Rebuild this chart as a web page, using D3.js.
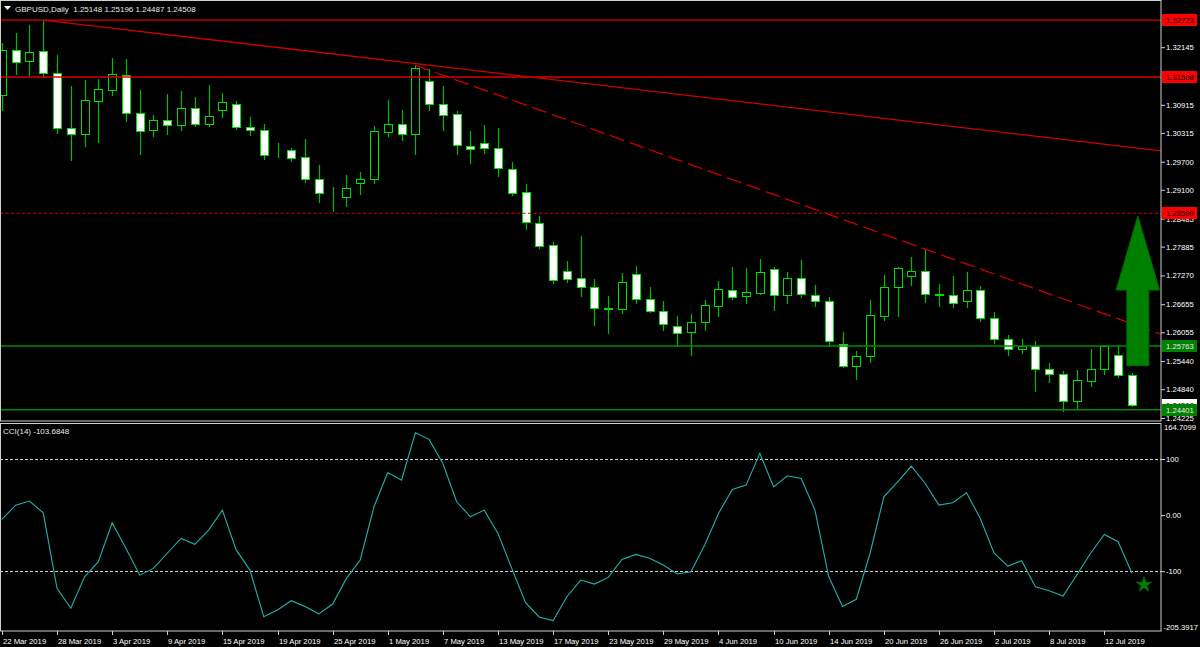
<!DOCTYPE html>
<html><head><meta charset="utf-8">
<script src="https://cdn.jsdelivr.net/npm/d3@7"></script>
<style>
html,body{margin:0;padding:0;background:#000;}
svg{display:block;}
text{font-family:"Liberation Sans",Arial,sans-serif;}
</style></head><body>
<svg id="chart" width="1200" height="647"></svg>
<script>
// ---------- DATA ----------
const dates = [
"2019-03-22","2019-03-25","2019-03-26","2019-03-27","2019-03-28","2019-03-29",
"2019-04-01","2019-04-02","2019-04-03","2019-04-04","2019-04-05","2019-04-08","2019-04-09","2019-04-10","2019-04-11","2019-04-12",
"2019-04-15","2019-04-16","2019-04-17","2019-04-18","2019-04-19","2019-04-22","2019-04-23","2019-04-24","2019-04-25","2019-04-26",
"2019-04-29","2019-04-30",
"2019-05-01","2019-05-02","2019-05-03","2019-05-06","2019-05-07","2019-05-08","2019-05-09","2019-05-10","2019-05-13","2019-05-14",
"2019-05-15","2019-05-16","2019-05-17","2019-05-20","2019-05-21","2019-05-22","2019-05-23","2019-05-24","2019-05-27","2019-05-28",
"2019-05-29","2019-05-30","2019-05-31",
"2019-06-03","2019-06-04","2019-06-05","2019-06-06","2019-06-07","2019-06-10","2019-06-11","2019-06-12","2019-06-13","2019-06-14",
"2019-06-17","2019-06-18","2019-06-19","2019-06-20","2019-06-21","2019-06-24","2019-06-25","2019-06-26","2019-06-27","2019-06-28",
"2019-07-01","2019-07-02","2019-07-03","2019-07-04","2019-07-05","2019-07-08","2019-07-09","2019-07-10","2019-07-11","2019-07-12",
"2019-07-15","2019-07-16"
];
const openP = [
1.31119,1.32095,1.31852,1.32059,1.31595,1.30421,1.30281,1.31006,1.31241,1.31561,
1.30750,1.30366,1.30586,1.30486,1.30842,1.30500,1.30799,1.30934,1.30436,1.30366,
1.29864,1.29939,1.29790,1.29327,1.28974,1.28949,1.29235,1.29320,1.30336,1.30494,
1.30281,1.31418,1.30934,1.30714,1.30037,1.30089,1.29982,1.29534,1.29043,1.28394,
1.27911,1.27356,1.27213,1.27028,1.26579,1.26545,1.27305,1.26772,1.26515,1.26195,
1.26067,1.26268,1.26616,1.26951,1.26823,1.26893,1.27412,1.26844,1.27207,1.26857,
1.26716,1.25811,1.25335,1.25548,1.26409,1.27028,1.27262,1.27363,1.26878,1.26844,
1.26716,1.26957,1.26366,1.25905,1.25704,1.25762,1.25277,1.25158,1.24594,1.25021,
1.25265,1.25576,1.25148
];
const highP = [
1.32229,1.32449,1.32614,1.32723,1.31973,1.31312,1.31455,1.31476,1.31916,1.31894,
1.31226,1.30693,1.31141,1.31205,1.31083,1.31327,1.31177,1.30991,1.30656,1.30515,
1.30089,1.29982,1.30180,1.29625,1.29149,1.29412,1.29470,1.30458,1.31013,1.30799,
1.31760,1.31689,1.31312,1.30784,1.30351,1.30479,1.30409,1.29683,1.29226,1.28530,
1.27975,1.27576,1.28116,1.27186,1.26829,1.27326,1.27476,1.27021,1.26722,1.26402,
1.26445,1.26744,1.27149,1.27442,1.27420,1.27619,1.27455,1.27335,1.27591,1.27064,
1.26801,1.26054,1.25655,1.26744,1.27277,1.27455,1.27662,1.27832,1.27085,1.27256,
1.27348,1.27049,1.26488,1.26003,1.25911,1.25869,1.25393,1.25228,1.25250,1.25698,
1.25783,1.25783,1.25196
];
const lowP = [
1.30799,1.31568,1.31546,1.31510,1.30315,1.29732,1.30037,1.30110,1.31119,1.30571,
1.29854,1.30244,1.30281,1.30387,1.30458,1.30468,1.30656,1.30400,1.30259,1.29760,
1.29803,1.29717,1.29269,1.28842,1.28643,1.28750,1.29006,1.29235,1.30251,1.30159,
1.29854,1.30799,1.30372,1.29854,1.29662,1.29888,1.29397,1.28985,1.28253,1.27860,
1.27113,1.27134,1.26836,1.26210,1.26046,1.26473,1.26673,1.26494,1.26103,1.25762,
1.25570,1.26103,1.26409,1.26765,1.26673,1.26872,1.26530,1.26686,1.26801,1.26622,
1.25768,1.25320,1.25051,1.25427,1.26323,1.26409,1.27064,1.26707,1.26616,1.26594,
1.26601,1.26302,1.25820,1.25563,1.25619,1.24808,1.25000,1.24381,1.24417,1.24908,
1.25164,1.25094,1.24487
];
const closeP = [
1.32080,1.31830,1.32037,1.31595,1.30415,1.30287,1.31013,1.31248,1.31583,1.30729,
1.30345,1.30586,1.30486,1.30842,1.30507,1.30678,1.30970,1.30430,1.30366,1.29839,
1.29856,1.29768,1.29327,1.29021,1.28968,1.29128,1.29333,1.30345,1.30494,1.30287,
1.31711,1.30934,1.30707,1.30046,1.29960,1.29988,1.29555,1.29021,1.28402,1.27903,
1.27171,1.27192,1.27028,1.26584,1.26545,1.27122,1.26765,1.26509,1.26238,1.26033,
1.26274,1.26631,1.26972,1.26808,1.26908,1.27335,1.26844,1.27207,1.26865,1.26722,
1.25869,1.25335,1.25555,1.26417,1.27015,1.27420,1.27363,1.26865,1.26844,1.26673,
1.26957,1.26366,1.25905,1.25704,1.25762,1.25265,1.25158,1.24594,1.25030,1.25265,
1.25762,1.25149,1.24508
];
const cci = [
-7.7,17.8,25,4,-130.6,-166,-110,-83,-13.7,-59,
-107,-95,-68,-41.5,-52,-26.7,8.9,-62,-98,-181,
-169,-152.6,-163,-176,-158.5,-112.8,-80,14.8,76,62.3,
146.6,135,92,23.7,-3,8.9,-32.6,-95,-156,-182,
-188,-145.5,-115.8,-123,-111,-79,-70,-77,-89,-105,
-101,-53.4,3,45.7,53.4,110,50.4,70,65.3,8.9,
-110,-163,-150,-68,32.6,59.3,87.3,56.4,17.8,22,
39.7,-6,-68,-90.8,-81.3,-127.6,-134.8,-144.3,-106.9,-68,
-34.4,-47.5,-103.6848
];
const priceTicks = [1.32145,1.30915,1.30315,1.29700,1.29100,1.28485,1.27885,1.27270,1.26655,1.26055,1.25440,1.24840,1.24225];
const cciTicks = [164.7099,100,0,-100,-205.3917];
const cciTickLabels = ["164.7099","100","0.00","-100","-205.3917"];
const cciLevels = [100,-100];
const dateTickLabels = ["22 Mar 2019","28 Mar 2019","3 Apr 2019","9 Apr 2019","15 Apr 2019","19 Apr 2019","25 Apr 2019",
"1 May 2019","7 May 2019","13 May 2019","17 May 2019","23 May 2019","29 May 2019","4 Jun 2019","10 Jun 2019",
"14 Jun 2019","20 Jun 2019","26 Jun 2019","2 Jul 2019","8 Jul 2019","12 Jul 2019"];
const dateTickEvery = 4;
const redLevels = [1.32723,1.31508];
const redDashedLevels = [1.28599];
const greenLevels = [1.25763,1.24401];
const solidTrend = [[3,1.32723],[30,1.31794]];
const dashedTrend = [[30,1.31760],[67,1.27832]];
const arrowIndex = 82.43;
const arrowLevels = [1.28543,1.26957,1.25341]; // tip, head base, tail
const starPoint = [82.88,-124];
const symbolName = "GBPUSD,Daily";
const cciTitle = "CCI(14) -103.6848";

// ---------- LAYOUT ----------
const W=1200, H=647, PR=1161;
const top1=0.5, bot1=421, top2=423, bot2=631;
const FS=7.7;
const svg=d3.select("#chart");
svg.append("rect").attr("width",W).attr("height",H).attr("fill","#000");

const x=d3.scalePoint().domain(dates).range([1.9,1131.9]);
const xi=d3.scaleLinear().domain([0,dates.length-1]).range([1.9,1131.9]);
const y=d3.scaleLinear().domain([1.24225,1.32145]).range([418,47.2]);
const yc=d3.scaleLinear().domain([-100,100]).range([571.2,459]);

const defs=svg.append("defs");
defs.append("clipPath").attr("id","c1").append("rect").attr("x",1).attr("y",1).attr("width",PR-1).attr("height",bot1-1);
defs.append("clipPath").attr("id","c2").append("rect").attr("x",1).attr("y",top2+1).attr("width",PR-1).attr("height",bot2-top2-1);

// ---------- CANDLES ----------
const g1=svg.append("g").attr("clip-path","url(#c1)");
const idx=d3.range(dates.length);
const cx=i=>Math.round(x(dates[i]));
g1.selectAll("line.wick").data(idx).join("line").attr("class","wick")
  .attr("x1",i=>cx(i)+0.5).attr("x2",i=>cx(i)+0.5)
  .attr("y1",i=>Math.round(y(highP[i]))).attr("y2",i=>Math.round(y(lowP[i]))+1)
  .attr("stroke","#00bb00").attr("stroke-width",1.2);
g1.selectAll("rect.body").data(idx).join("rect").attr("class","body")
  .attr("x",i=>cx(i)-3.5).attr("width",8)
  .attr("y",i=>Math.round(y(Math.max(openP[i],closeP[i])))+0.5)
  .attr("height",i=>Math.round(y(Math.min(openP[i],closeP[i])))-Math.round(y(Math.max(openP[i],closeP[i]))))
  .attr("fill",i=>closeP[i]>openP[i]?"#000":"#fff")
  .attr("stroke","#00e000").attr("stroke-width",1);

// ---------- OBJECTS ----------
const hline=(p,col,dash,w)=>g1.append("line").attr("x1",0).attr("x2",PR).attr("y1",y(p)).attr("y2",y(p))
  .attr("stroke",col).attr("stroke-width",w).attr("stroke-dasharray",dash);
redLevels.forEach(p=>hline(p,"#dd0000",null,1.3));
redDashedLevels.forEach(p=>hline(p,"#dd0000","3,2.5",1.1));
greenLevels.forEach(p=>hline(p,"#008c00",null,1.3));

function trend(pts,dash){
  const [a,b]=pts; const slope=(b[1]-a[1])/(b[0]-a[0]);
  const iEnd=xi.invert(PR);
  g1.append("line").attr("x1",xi(a[0])).attr("y1",y(a[1]))
    .attr("x2",PR).attr("y2",y(a[1]+slope*(iEnd-a[0])))
    .attr("stroke","#cc0000").attr("stroke-width",1.3).attr("stroke-dasharray",dash);
}
trend(solidTrend,null);
trend(dashedTrend,"15,5.7");

// arrow
{
  const ax=xi(arrowIndex), yt=y(arrowLevels[0]), yh=y(arrowLevels[1]), yb=y(arrowLevels[2]);
  const hw=21.7, sw=11;
  const pts=[[ax,yt],[ax+hw,yh],[ax+sw,yh],[ax+sw,yb],[ax-sw,yb],[ax-sw,yh],[ax-hw,yh]];
  g1.append("path").attr("d",d3.line()(pts)+"Z").attr("fill","#008000").attr("stroke","#006a00").attr("stroke-width",1);
}

// ---------- PANE BORDERS ----------
svg.append("rect").attr("x",0.5).attr("y",top1).attr("width",PR-0.5).attr("height",bot1-top1)
  .attr("fill","none").attr("stroke","#cfcfcf").attr("stroke-width",1);
svg.append("rect").attr("x",0.5).attr("y",top2+0.5).attr("width",PR-0.5).attr("height",bot2-top2-0.5)
  .attr("fill","none").attr("stroke","#cfcfcf").attr("stroke-width",1);

// ---------- PRICE AXIS ----------
const ax1=svg.append("g").attr("transform",`translate(${PR},0)`)
  .call(d3.axisRight(y).tickValues(priceTicks).tickSize(4).tickPadding(1).tickFormat(d3.format(".5f")));
ax1.select(".domain").remove();
ax1.selectAll("line").attr("stroke","#cfcfcf");
ax1.selectAll("text").attr("fill","#fff").attr("font-size",FS).attr("font-family","Liberation Sans,Arial");

// level labels
function levelLabel(p,bg,fg,txt){
  const g=svg.append("g").attr("transform",`translate(${PR+1},${Math.round(y(p))})`);
  g.append("rect").attr("x",0).attr("y",-6).attr("width",W-PR-4).attr("height",12).attr("fill",bg);
  g.append("text").attr("x",4).attr("y",0).attr("dy","0.35em").attr("fill",fg).attr("font-size",FS).text(txt);
}
const fmt5=d3.format(".5f");
redLevels.forEach(p=>levelLabel(p,"#ff0000","#000",fmt5(p)));
redDashedLevels.forEach(p=>levelLabel(p,"#ff0000","#000",fmt5(p)));
levelLabel(closeP[closeP.length-1],"#ffffff","#000",fmt5(closeP[closeP.length-1]));
greenLevels.forEach(p=>levelLabel(p,"#008000","#e8e8e8",fmt5(p)));

// ---------- HEADER ----------
svg.append("path").attr("d","M4,6 L11,6 L7.5,10 Z").attr("fill","#fff");
svg.append("text").attr("x",15).attr("y",11.5).attr("fill","#e8e8e8").attr("font-size",8)
  .attr("xml:space","preserve")
  .text(symbolName+"  "+[openP,highP,lowP,closeP].map(a=>fmt5(a[a.length-1])).join(" "));

// ---------- CCI PANE ----------
const g2=svg.append("g").attr("clip-path","url(#c2)");
cciLevels.forEach(v=>g2.append("line").attr("x1",0).attr("x2",PR).attr("y1",Math.round(yc(v))+0.5).attr("y2",Math.round(yc(v))+0.5)
  .attr("stroke","#d0d0d0").attr("stroke-width",1).attr("stroke-dasharray","3,2"));
g2.append("path").datum(cci).attr("d",d3.line().x((d,i)=>x(dates[i])).y(d=>yc(d)))
  .attr("fill","none").attr("stroke","#20b2aa").attr("stroke-width",1.1);
g2.append("path").attr("d",d3.symbol(d3.symbolStar,72)())
  .attr("transform",`translate(${xi(starPoint[0])},${yc(starPoint[1])})`).attr("fill","#008000").attr("stroke","#006a00").attr("stroke-width",0.8);
svg.append("text").attr("x",3).attr("y",top2+11).attr("fill","#e8e8e8").attr("font-size",8).text(cciTitle);

const ax2=svg.append("g").attr("transform",`translate(${PR},0)`)
  .call(d3.axisRight(yc).tickValues(cciTicks).tickSize(4).tickPadding(1).tickFormat((d,i)=>cciTickLabels[i]));
ax2.select(".domain").remove();
ax2.selectAll("line").attr("stroke","#cfcfcf");
ax2.selectAll("text").attr("fill","#fff").attr("font-size",FS);
// top/bottom extreme labels sit inside the pane
const firstTick=ax2.selectAll(".tick").filter((d,i)=>i===0);
firstTick.select("text").attr("dy","0.9em").attr("y",0).attr("x",3);
firstTick.select("line").remove();
const lastTick=ax2.selectAll(".tick").filter((d,i)=>i===cciTicks.length-1);
lastTick.select("text").attr("dy","-0.1em").attr("x",2.5);
lastTick.select("line").remove();

// ---------- DATE AXIS ----------
const tickIdx=dateTickLabels.map((d,k)=>k*dateTickEvery);
const ax3=svg.append("g");
ax3.selectAll("line").data(tickIdx).join("line")
  .attr("x1",i=>cx(i)+0.5).attr("x2",i=>cx(i)+0.5).attr("y1",bot2).attr("y2",bot2+4)
  .attr("stroke","#cfcfcf");
ax3.selectAll("text").data(tickIdx).join("text")
  .attr("x",i=>cx(i)+1).attr("y",bot2+13).attr("fill","#fff").attr("font-size",FS)
  .text((i,k)=>dateTickLabels[k]);
</script>
</body></html>
